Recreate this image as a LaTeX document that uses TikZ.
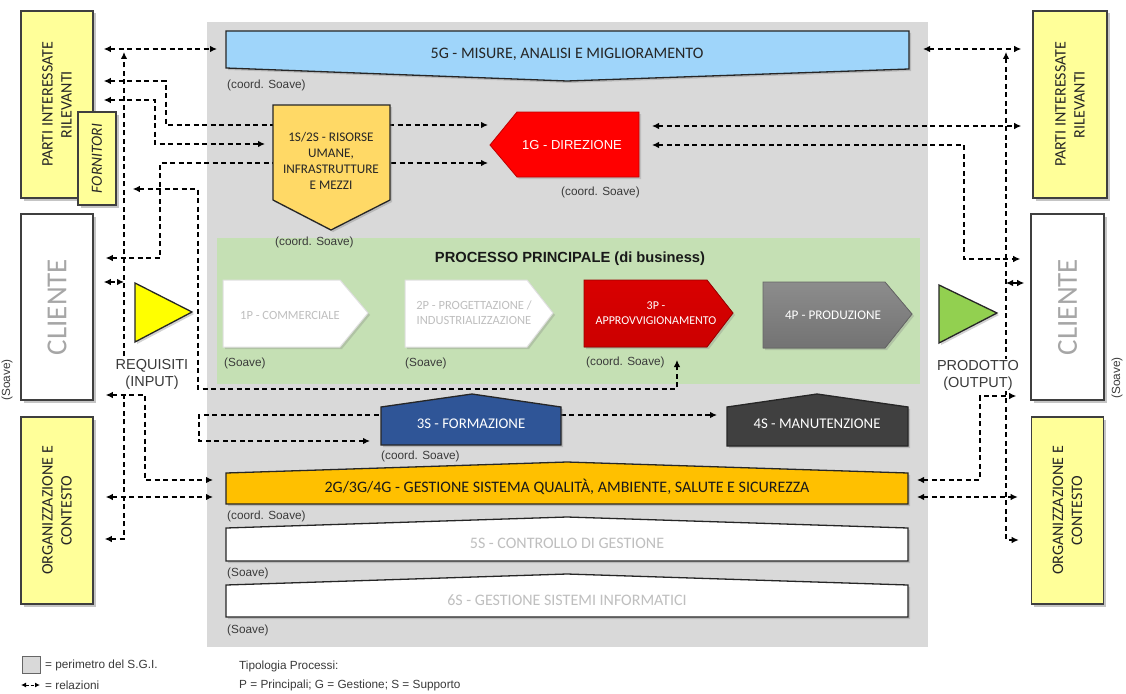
\documentclass[tikz,border=0pt]{standalone}
\usepackage{fontspec}
\setmainfont{Liberation Sans}
\newfontfamily\calfont{Carlito}
\usetikzlibrary{arrows.meta,shadows}
\definecolor{sgi}{HTML}{D9D9D9}
\definecolor{procgreen}{HTML}{C5E0B4}
\definecolor{sideyellow}{HTML}{FFFF99}
\definecolor{boxborder}{HTML}{3F3F3F}
\definecolor{bluebanner}{HTML}{9FD5FA}
\definecolor{goldbox}{HTML}{FFD966}
\definecolor{dirred}{HTML}{FF0000}
\definecolor{appred}{HTML}{CC0000}
\definecolor{prodgray}{HTML}{808080}
\definecolor{formblue}{HTML}{2F5597}
\definecolor{mangray}{HTML}{404040}
\definecolor{qgold}{HTML}{FFC000}
\definecolor{lighttext}{HTML}{BFBFBF}
\definecolor{labeltext}{HTML}{3A3A3A}
\definecolor{trigreen}{HTML}{92D050}
\definecolor{trigyellow}{HTML}{FFFF00}
\pgfdeclarelayer{back}
\pgfdeclarelayer{conn}
\pgfsetlayers{back,conn,main}
\begin{document}
\begin{tikzpicture}[x=1pt,y=-1pt,
  sidebox/.style={draw=boxborder, line width=1.6pt, inner sep=0pt,
    drop shadow={shadow xshift=2.5pt,shadow yshift=-2.5pt,opacity=0.45}},
  sidetext/.style={rotate=90, align=center, inner sep=0pt,
    font=\calfont\fontsize{16}{19}\selectfont, text=black!85},
  clientetext/.style={rotate=90, inner sep=0pt,
    font=\calfont\fontsize{29}{30}\selectfont, text=black!35},
  tipa/.tip={Latex[length=7pt,width=6.5pt]},
  rel/.style={dash pattern=on 5pt off 3.5pt, line width=1.2pt, -tipa},
  relb/.style={dash pattern=on 5pt off 3.5pt, line width=1.2pt, tipa-tipa},
  note/.style={font=\fontsize{11.8}{14}\selectfont, text=labeltext, inner sep=0pt, anchor=west},
  shapetext/.style={font=\calfont\fontsize{16}{18}\selectfont, align=center, inner sep=0pt},
  proctext/.style={font=\calfont\fontsize{12.5}{15}\selectfont, align=center, inner sep=0pt},
  shp/.style={line width=1.3pt, draw=black!85,
    drop shadow={shadow xshift=2pt,shadow yshift=-2pt,opacity=0.35}},
  flatshp/.style={drop shadow={shadow xshift=2pt,shadow yshift=-2pt,opacity=0.3}},
]
\useasboundingbox (0,0) rectangle (1126,693);
\begin{pgfonlayer}{back}
\fill[white] (0,0) rectangle (1126,693);
\fill[sgi] (207,22) rectangle (928,647);
\fill[procgreen] (217,238) rectangle (920,384);
\end{pgfonlayer}

% ---------- side boxes ----------
\node[sidebox, fill=sideyellow, minimum width=72pt, minimum height=187pt] (partiL) at (57,104.5) {};
\node[sidetext] (partiLt) at (partiL) {PARTI INTERESSATE\\RILEVANTI};
\node[sidebox, fill=sideyellow, minimum width=38pt, minimum height=93pt] (fornitori) at (97,158.5) {};
\node[sidetext, font=\calfont\itshape\fontsize{15.5}{17}\selectfont] (fornitorit) at (fornitori) {FORNITORI};
\node[sidebox, fill=white, minimum width=72pt, minimum height=186pt] (clienteL) at (57,307) {};
\node[clientetext] (clienteLt) at (clienteL) {CLIENTE};
\node[sidebox, fill=sideyellow, minimum width=72pt, minimum height=187pt] (orgL) at (57,510.5) {};
\node[sidetext] (orgLt) at (orgL) {ORGANIZZAZIONE E\\CONTESTO};

\node[sidebox, fill=sideyellow, minimum width=74pt, minimum height=187pt] (partiR) at (1070,104.5) {};
\node[sidetext] (partiRt) at (partiR) {PARTI INTERESSATE\\RILEVANTI};
\node[sidebox, fill=white, minimum width=73pt, minimum height=186pt] (clienteR) at (1067.5,307) {};
\node[clientetext] (clienteRt) at (clienteR) {CLIENTE};
\node[sidebox, fill=sideyellow, minimum width=72pt, minimum height=187pt] (orgR) at (1067.5,510.5) {};
\node[sidetext] (orgRt) at (orgR) {ORGANIZZAZIONE E\\CONTESTO};

\node[note, rotate=90, anchor=center] (soaveL) at (7,380) {(Soave)};
\node[note, rotate=90, anchor=center] (soaveR) at (1117,378) {(Soave)};

% ---------- input / output ----------
\filldraw[shp, fill=trigyellow] (135,283) -- (192,312) -- (135,342) -- cycle;
\node[fill=white, align=center, inner sep=1pt, text=labeltext,
  font=\fontsize{14.5}{17}\selectfont] (req) at (152,374) {REQUISITI\\(INPUT)};
\filldraw[shp, fill=trigreen] (939,285) -- (997,313) -- (939,343) -- cycle;
\node[fill=white, align=center, inner sep=1pt, text=labeltext,
  font=\fontsize{14.5}{17}\selectfont] (prod) at (978,375) {PRODOTTO\\(OUTPUT)};

% ---------- 5G ----------
\filldraw[shp, fill=bluebanner] (226,31) -- (909,31) -- (909,69) -- (567,81) -- (226,68) -- cycle;
\node[shapetext, text=black!85] (g5) at (567,54) {5G - MISURE, ANALISI E MIGLIORAMENTO};
\node[note] (g5n) at (227,85) {(coord. Soave)};
\coordinate (g5W) at (226,49);
\coordinate (g5E) at (909,49);

% ---------- 1S/2S ----------
\filldraw[shp, fill=goldbox] (273,105) -- (390,105) -- (390,200) -- (331,230) -- (273,200) -- cycle;
\node[shapetext, font=\calfont\fontsize{13.2}{16}\selectfont, text=black!85] (hr) at (331,161)
  {1S/2S - RISORSE\\UMANE,\\INFRASTRUTTURE\\E MEZZI};
\node[note] (hrn) at (275,242) {(coord. Soave)};
\coordinate (hrW) at (273,144);

% ---------- 1G ----------
\filldraw[flatshp, fill=dirred, draw=red!75!black, line width=0.8pt] (490,145) -- (517,112) -- (639,112) -- (639,177) -- (517,177) -- cycle;
\node[text=white, inner sep=0pt, font=\fontsize{13}{15}\selectfont] (dir) at (572,145) {1G - DIREZIONE};
\node[note] (dirn) at (561,192) {(coord. Soave)};
\coordinate (dirW) at (490,125);
\coordinate (dirW2) at (490,163);
\coordinate (dirE) at (639,126);
\coordinate (dirE2) at (639,145);

% ---------- processo principale ----------
\node[inner sep=0pt, font=\bfseries\fontsize{14.7}{16}\selectfont, text=black!90] (pp) at (570,259)
  {PROCESSO PRINCIPALE (di business)};
\filldraw[flatshp, fill=white, draw=black!12, line width=1pt] (223,280) -- (340,280) -- (368,313) -- (340,347) -- (223,347) -- cycle;
\node[proctext, text=lighttext] (p1) at (290,315) {1P - COMMERCIALE};
\node[note] (p1n) at (224,363) {(Soave)};
\filldraw[flatshp, fill=white, draw=black!12, line width=1pt] (405,280) -- (527,280) -- (553,313) -- (527,347) -- (405,347) -- cycle;
\node[proctext, text=lighttext] (p2) at (474,313) {2P - PROGETTAZIONE /\\INDUSTRIALIZZAZIONE};
\node[note] (p2n) at (405,363) {(Soave)};
\filldraw[flatshp, top color=red!85!black, bottom color=appred, draw=red!60!black, line width=0.8pt] (584,280) -- (707,280) -- (733,313) -- (707,347) -- (584,347) -- cycle;
\node[proctext, font=\calfont\fontsize{12}{15}\selectfont, text=white] (p3) at (656,313) {3P -\\APPROVVIGIONAMENTO};
\node[note] (p3n) at (586,362) {(coord. Soave)};
\coordinate (appS) at (677,347);
\filldraw[flatshp, top color=black!45, bottom color=black!55, draw=black!60, line width=0.8pt] (763,282) -- (885,282) -- (912,314) -- (885,348) -- (763,348) -- cycle;
\node[proctext, font=\calfont\fontsize{13.2}{15}\selectfont, text=white] (p4) at (833,315) {4P - PRODUZIONE};

% ---------- 3S / 4S ----------
\filldraw[shp, fill=formblue] (381,407) -- (472,394) -- (561,407) -- (561,445) -- (381,445) -- cycle;
\node[shapetext, font=\calfont\fontsize{14.8}{16}\selectfont, text=white] (form) at (471,424) {3S - FORMAZIONE};
\node[note] (formn) at (381,456) {(coord. Soave)};
\coordinate (formW) at (381,441);
\filldraw[shp, fill=mangray] (727,407) -- (817,394) -- (908,407) -- (908,446) -- (727,446) -- cycle;
\node[shapetext, font=\calfont\fontsize{14.8}{16}\selectfont, text=white] (man) at (817,424) {4S - MANUTENZIONE};
\coordinate (manW) at (727,415);

% ---------- 2G / 5S / 6S ----------
\filldraw[shp, fill=qgold] (226,473) -- (567,462) -- (908,473) -- (908,504) -- (226,504) -- cycle;
\node[shapetext, text=black!90] (qual) at (567,487) {2G/3G/4G - GESTIONE SISTEMA QUALITÀ, AMBIENTE, SALUTE E SICUREZZA};
\node[note] (qualn) at (227,516) {(coord. Soave)};
\coordinate (qW) at (226,480);
\coordinate (qW2) at (226,497);
\coordinate (qE) at (908,480);
\coordinate (qE2) at (908,497);
\filldraw[shp, fill=white] (226,528) -- (567,517) -- (908,528) -- (908,561) -- (226,561) -- cycle;
\node[shapetext, text=lighttext] (cdg) at (567,543) {5S - CONTROLLO DI GESTIONE};
\node[note] (cdgn) at (227,573) {(Soave)};
\filldraw[shp, fill=white] (226,585) -- (567,574) -- (908,585) -- (908,617) -- (226,617) -- cycle;
\node[shapetext, text=lighttext] (gsi) at (567,600) {6S - GESTIONE SISTEMI INFORMATICI};
\node[note] (gsin) at (227,630) {(Soave)};

% ---------- connectors ----------
\coordinate (topL) at (124,52);
\coordinate (topR) at (1006,52);
\coordinate (midL) at (124,282);
\coordinate (midR) at (1006,283);
\begin{pgfonlayer}{conn}
\draw[relb, shorten <=10pt, shorten >=9pt] (partiL.east |- g5W) -- (g5W);
\draw[relb, shorten <=14pt, shorten >=11pt] (g5E) -- (partiR.west |- g5E);
\draw[relb, shorten <=11pt] (orgL.east |- 0,539) -| (topL);
\draw[relb, shorten >=12pt] (topR) |- (orgR.west |- 0,540);
\draw[relb, shorten <=10pt] (clienteL.east |- midL) -- (midL);
\draw[relb, shorten >=6pt] (midR) -- (clienteR.west |- midR);
\draw[relb, shorten <=10pt, shorten >=2pt] (partiL.east |- 0,81) -| (166,125) -- (dirW);
\draw[relb, shorten <=10pt, shorten >=8pt] (partiL.east |- 0,100) -| (155,144) -- (hrW);
\draw[relb, shorten <=12pt, shorten >=2pt] (clienteL.east |- 0,258) -| (160,163) -- (dirW2);
\draw[relb, shorten <=16pt, shorten >=13pt] (fornitori.east |- 0,189) -| (198,389) -| (appS);
\draw[relb, shorten <=11pt, shorten >=10pt] (formW) -| (199,415) -- (manW);
\draw[relb, shorten <=12pt, shorten >=13pt] (clienteL.east |- 0,395) -| (145,480) -- (qW);
\draw[relb, shorten <=12pt, shorten >=13pt] (orgL.east |- qW2) -- (qW2);
\draw[relb, shorten <=13pt, shorten >=11pt] (dirE) -- (partiR.west |- dirE);
\draw[relb, shorten <=13pt, shorten >=10pt] (dirE2) -| (964,259) -- (clienteR.west |- 0,259);
\draw[relb, shorten <=9pt, shorten >=14pt] (qE) -| (980,396) -- (clienteR.west |- 0,396);
\draw[relb, shorten <=9pt, shorten >=13pt] (qE2) -- (orgR.west |- qE2);
\end{pgfonlayer}

% ---------- legend ----------
\node[draw=black!60, fill=sgi, line width=0.8pt, minimum width=18pt, minimum height=17pt, inner sep=0pt] (legbox) at (31,665) {};
\node[note] (legboxt) at (45,665) {= perimetro del S.G.I.};
\coordinate (legA) at (21,685);
\coordinate (legB) at (40,685);
\draw[dash pattern=on 3pt off 2pt, line width=1pt, {Latex[length=5pt,width=5pt]}-{Latex[length=5pt,width=5pt]}] (legA) -- (legB);
\node[note] (legrel) at (45,685) {= relazioni};
\node[note] (tip1) at (239,666) {Tipologia Processi:};
\node[note] (tip2) at (239,685) {P = Principali; G = Gestione; S = Supporto};
\end{tikzpicture}
\end{document}
